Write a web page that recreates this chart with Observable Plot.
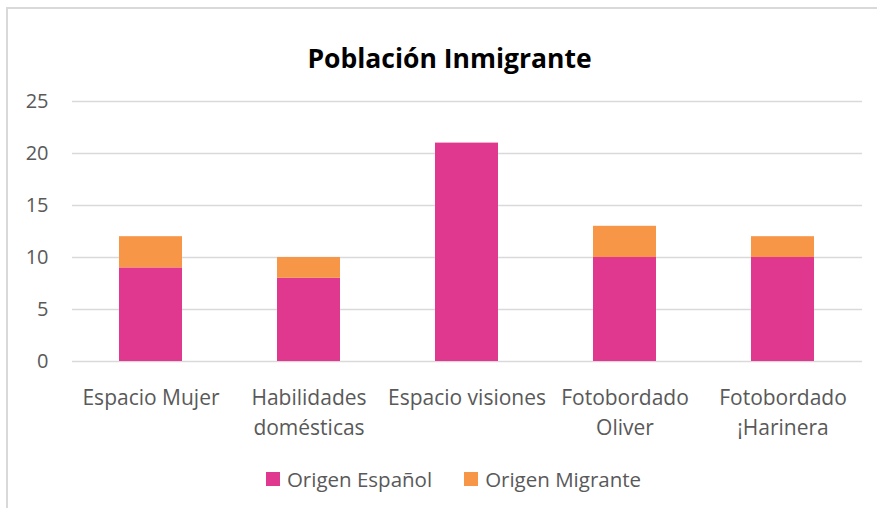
<!DOCTYPE html>
<html>
<head>
<meta charset="utf-8">
<script src="https://cdn.jsdelivr.net/npm/d3@7"></script>
<script src="https://cdn.jsdelivr.net/npm/@observablehq/plot@0.6"></script>
<style>
  html, body { margin: 0; padding: 0; background: #fff; }
  body { width: 877px; height: 508px; position: relative; overflow: hidden; font-family: "Open Sans", sans-serif; }
  #frame { position: absolute; left: 6px; top: 7px; width: 880px; height: 520px; border-left: 2px solid #d9d9d9; border-top: 2px solid #d9d9d9; box-sizing: border-box; }
  #title { position: absolute; left: 11px; width: 877px; top: 39px; text-align: center; font-weight: bold; font-size: 26.5px; color: #000; line-height: 38px; }
  #chart { position: absolute; left: 0; top: 85px; }
  #legend { position: absolute; left: 15px; width: 877px; top: 465px; display: flex; justify-content: center; align-items: center; font-size: 20.5px; color: #595959; line-height: 28px; }
  .item { display: flex; align-items: center; margin: 0 16px; }
  .sw { width: 14px; height: 14px; margin-right: 7px; }
</style>
</head>
<body>
<div id="frame"></div>
<div id="title">Población Inmigrante</div>
<div id="chart"></div>
<div id="legend"></div>
<script>
const categories = ["Espacio Mujer", "Habilidades domésticas", "Espacio visiones", "Fotobordado Oliver", "Fotobordado ¡Harinera"];
const tickLabels = ["Espacio Mujer", "Habilidades\ndomésticas", "Espacio visiones", "Fotobordado\nOliver", "Fotobordado\n¡Harinera"];
const seriesNames = ["Origen Español", "Origen Migrante"];
const origenEspanol = [9, 8, 21, 10, 10];
const origenMigrante = [3, 2, 0, 3, 2];
const seriesColors = ["#E0388F", "#F79646"];
const yTicks = [0, 5, 10, 15, 20, 25];

const seriesValues = [origenEspanol, origenMigrante];
const data = [];
seriesNames.forEach((s, si) => {
  categories.forEach((c, ci) => data.push({category: c, series: s, value: seriesValues[si][ci]}));
});
const labelOf = new Map(categories.map((c, i) => [c, tickLabels[i]]));

const plot = Plot.plot({
  width: 877,
  height: 370,
  marginTop: 16,
  marginBottom: 94,
  marginLeft: 72,
  marginRight: 15,
  style: {fontFamily: "'Open Sans', sans-serif", fontSize: "20px", color: "#595959", background: "transparent"},
  x: {domain: categories, paddingInner: 0.6, paddingOuter: 0.3, label: null},
  y: {domain: [0, 25], label: null},
  color: {domain: seriesNames, range: seriesColors},
  marks: [
    Plot.gridY(yTicks, {stroke: "#d9d9d9", strokeOpacity: 1, strokeWidth: 1.5}),
    Plot.barY(data, Plot.stackY({order: seriesNames}, {x: "category", y: "value", fill: "series"})),
    Plot.axisY(yTicks, {tickSize: 0, tickPadding: 24, fontSize: 20, fill: "#595959", label: null}),
    Plot.axisX({tickSize: 0, tickPadding: 22, fontSize: 21, fill: "#595959", lineHeight: 1.43, tickFormat: d => labelOf.get(d), label: null})
  ]
});
document.getElementById("chart").appendChild(plot);

const legend = document.getElementById("legend");
seriesNames.forEach((s, i) => {
  const item = document.createElement("div");
  item.className = "item";
  const sw = document.createElement("span");
  sw.className = "sw";
  sw.style.background = seriesColors[i];
  const t = document.createElement("span");
  t.textContent = s;
  item.appendChild(sw);
  item.appendChild(t);
  legend.appendChild(item);
});
</script>
</body>
</html>
